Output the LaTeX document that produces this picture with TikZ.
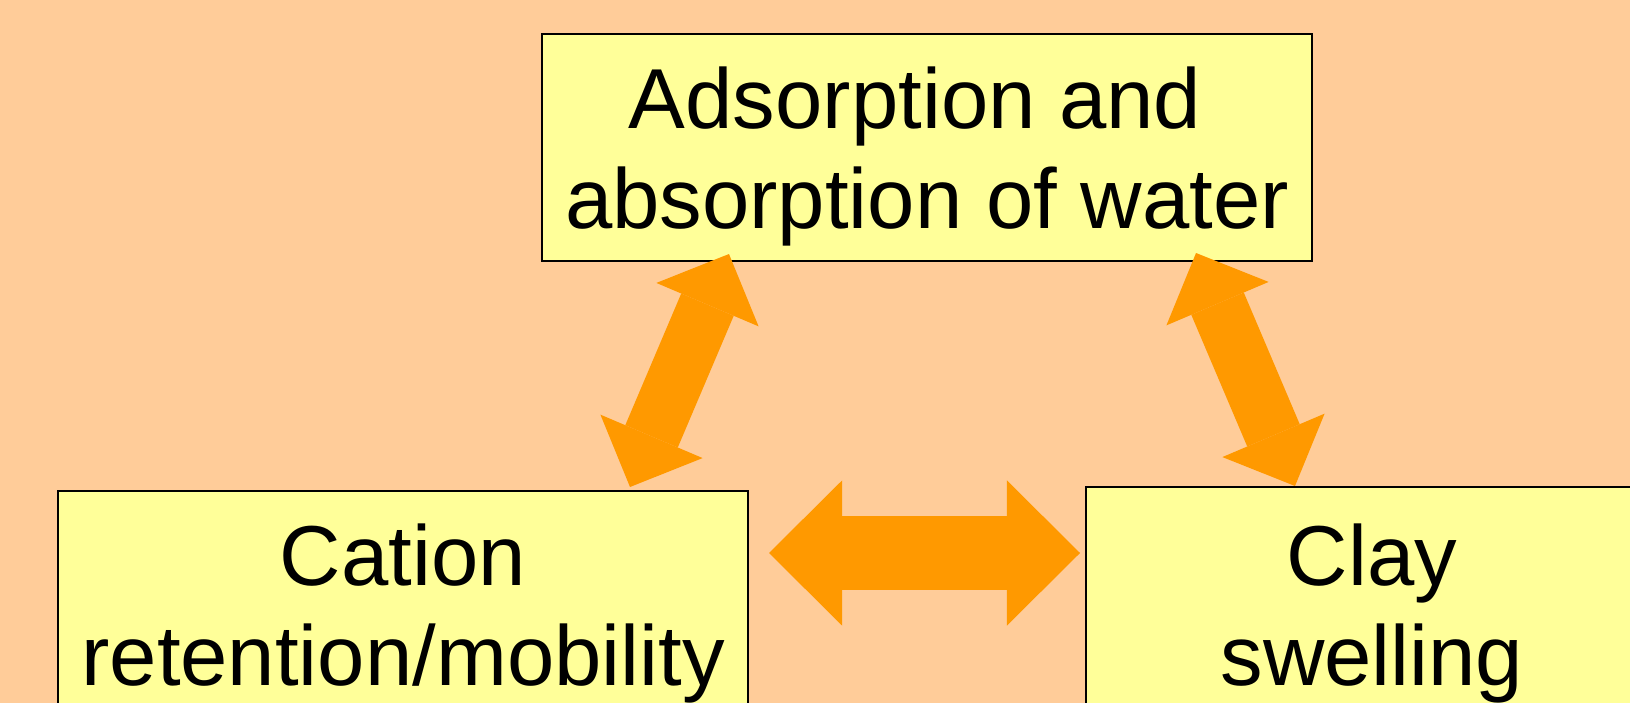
\documentclass[tikz,border=0pt]{standalone}
\usepackage{fontspec}
\setmainfont{Liberation Sans}
\usepackage{tikz}
\usetikzlibrary{arrows.meta}

\definecolor{peach}{HTML}{FFCC99}
\definecolor{paleyellow}{HTML}{FFFF99}
\definecolor{darkorange}{HTML}{FF9900}

\begin{document}
\begin{tikzpicture}[x=0.01cm,y=-0.01cm,
        box/.style={draw=black,line width=0.6pt,fill=paleyellow,align=center,
            text depth=0pt,inner sep=0pt,
            font=\fontsize{24.2pt}{28.45pt}\selectfont},
        bigarrow/.style={darkorange,line width=0.73cm,
            {Triangle[length=0.73cm,width=1.45cm,line width=0pt]}-{Triangle[length=0.73cm,width=1.45cm,line width=0pt]}},
        slimarrow/.style={darkorange,line width=0.57cm,
            {Triangle[length=0.55cm,width=1.11cm,line width=0pt]}-{Triangle[length=0.55cm,width=1.11cm,line width=0pt]}}]
        \fill[peach] (0,0) rectangle (1630,703);
        \useasboundingbox (0,0) rectangle (1630,703);
        % the three boxes
        \node[box,minimum width=7.7cm,minimum height=2.27cm] (water) at (927,147.5)
            {Adsorption and\hspace*{0.28em}\\absorption of water};
        \node[box,minimum width=6.9cm,minimum height=2.27cm] (cation) at (403,604.5)
            {Cation\\retention/mobility};
        \node[box,minimum width=5.72cm,minimum height=2.35cm] (swell) at (1372,604.5)
            {Clay\\swelling};
        % arrow ends
        \coordinate (wl) at (729,254);
        \coordinate (ct) at (630,487);
        \coordinate (wr) at (1196,253);
        \coordinate (st) at (1295,486);
        \coordinate (cr) at (769,553);
        \coordinate (sl) at (1080,553);
        % double arrows
        \draw[slimarrow] (wl) -- (ct);
        \draw[slimarrow] (wr) -- (st);
        \draw[bigarrow] (cr) -- (sl);
    \end{tikzpicture}
\end{document}
